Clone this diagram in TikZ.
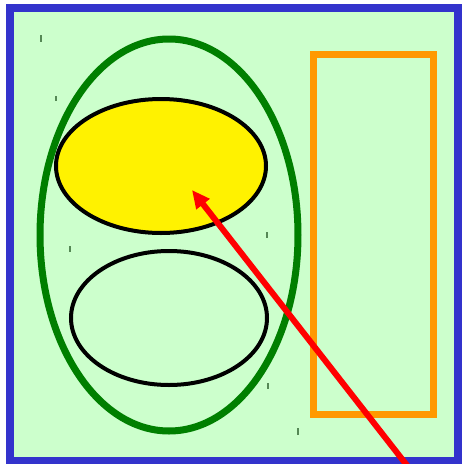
\documentclass[tikz,border=0pt]{standalone}
\usetikzlibrary{shapes.geometric,arrows.meta}
\definecolor{bgreen}{HTML}{CCFFCC}
\definecolor{frameblue}{HTML}{3333CC}
\definecolor{dgreen}{HTML}{007F00}
\definecolor{orng}{HTML}{FF9900}
\definecolor{tickc}{HTML}{558855}
\tikzset{
  ell/.style={ellipse, draw, inner sep=0pt},
  tickmark/.style={tickc, line width=1.2pt},
}
\begin{document}
\begin{tikzpicture}[x=1pt,y=-1pt]
\useasboundingbox (0,0) rectangle (462,464);
\begin{scope}
\clip (0,0) rectangle (462,464);
\draw[frameblue, fill=bgreen, line width=8pt] (10,8) rectangle (458,461);
\node[ell, draw=dgreen, line width=7pt, minimum width=258pt, minimum height=392pt] (outer) at (169,235) {};
\node[ell, draw=black, fill=yellow, line width=4pt, minimum width=210pt, minimum height=134pt] (yel) at (161,166) {};
\node[ell, draw=black, line width=4pt, minimum width=196pt, minimum height=134pt] (low) at (169,318) {};
\node[draw=orng, line width=7pt, minimum width=120pt, minimum height=360pt, inner sep=0pt] (rect) at (373,234) {};
\coordinate (start) at (409,468);
\coordinate (tip) at (192,190);
\draw[red, line width=6pt, -{Triangle[length=18pt,width=16pt]}] (start) -- (tip);
\draw[tickmark] (41,35) -- (41,42);
\draw[tickmark] (56,96) -- (56,101);
\draw[tickmark] (70,246) -- (70,252);
\draw[tickmark] (267,232) -- (267,238);
\draw[tickmark] (268,383) -- (268,389);
\draw[tickmark] (298,428) -- (298,435);
\end{scope}
\end{tikzpicture}
\end{document}
